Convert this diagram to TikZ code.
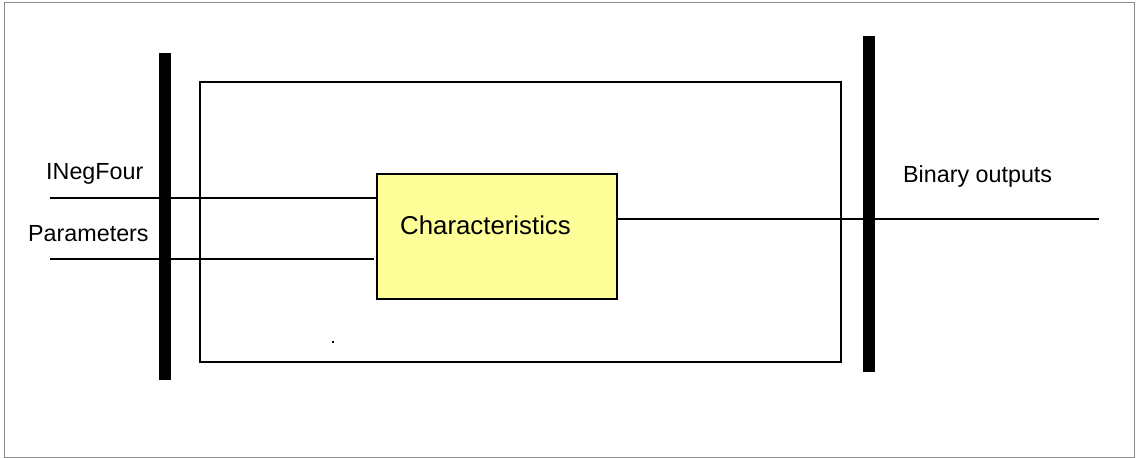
\documentclass[tikz,border=0pt]{standalone}
\usepackage{fontspec}
\setmainfont{Liberation Sans}
\definecolor{boxyellow}{HTML}{FFFF99}
\definecolor{framegray}{HTML}{8A8A8A}
\begin{document}
\begin{tikzpicture}[x=1pt,y=-1pt,
  wire/.style={line width=1.4pt,black},
  busbar/.style={fill=black,draw=none,inner sep=0pt,minimum width=12pt},
  lbl/.style={inner sep=0pt,font=\fontsize{23.3}{28}\selectfont},
  charbox/.style={draw=black,line width=1.6pt,fill=boxyellow,inner sep=0pt,minimum width=240pt,minimum height=125pt},
  blockframe/.style={draw=black,line width=1.4pt,inner sep=0pt,minimum width=641pt,minimum height=280pt}]
\useasboundingbox (0,0) rectangle (1136,458);
\draw[framegray,line width=1pt] (4.5,2.5) rectangle (1134.5,457);
% inner frame
\node[blockframe] (blk) at (520.5,222) {};
% bars
\node[busbar,minimum height=327pt] (lbar) at (165,216.5) {};
\node[busbar,minimum height=336pt] (rbar) at (869,204) {};
% characteristics box
\node[charbox] (char) at (497,236.5) {};
\node[lbl,font=\fontsize{25.8}{30}\selectfont] (chartxt) at (485.5,225) {Characteristics};
% inputs
\coordinate (inA) at (50,198);
\coordinate (inB) at (50,259);
\coordinate (inBend) at (374,259);
\coordinate (out) at (1099,219);
\draw[wire] (inA) -- (char.west |- inA);
\draw[wire] (inB) -- (inBend);
\draw[wire] (char.east |- out) -- (out);
% labels
\node[lbl,anchor=west] (lneg) at (46,174) {INegFour};
\node[lbl,anchor=west] (lpar) at (28,234) {Parameters};
\node[lbl,anchor=west] (lbin) at (903,176) {Binary outputs};
% stray dot
\node[fill=black,inner sep=0pt,minimum size=1.6pt] (dot) at (333,342) {};
\end{tikzpicture}
\end{document}
